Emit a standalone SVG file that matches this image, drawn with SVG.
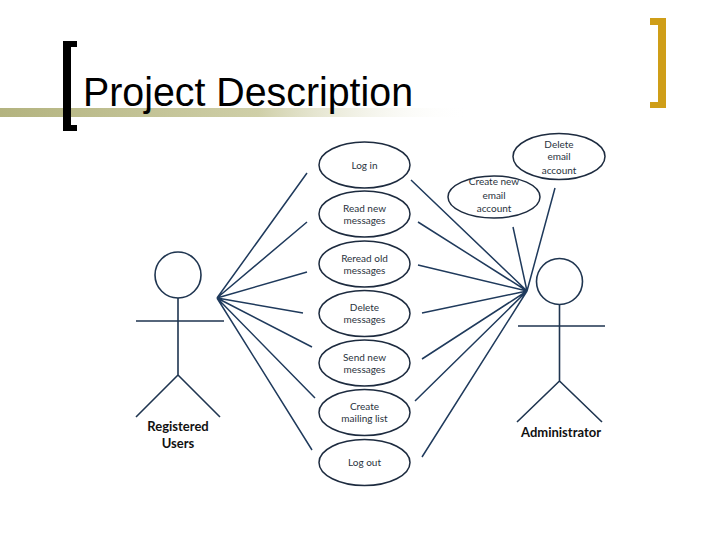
<svg xmlns="http://www.w3.org/2000/svg" width="720" height="540" viewBox="0 0 720 540">
<defs>
<linearGradient id="band" x1="0" y1="0" x2="1" y2="0">
<stop offset="0" stop-color="#b3b37f"/>
<stop offset="0.55" stop-color="#cfcfa8"/>
<stop offset="1" stop-color="#ffffff" stop-opacity="0"/>
</linearGradient>
<style>
.uc{fill:#ffffff;stroke:#1d2b3f;stroke-width:1.5}
.ut{font-family:Lato,"Open Sans",sans-serif;font-size:10px;fill:#2a3340;text-anchor:middle}
.act{fill:none;stroke:#1f3550;stroke-width:1.6}
.ln{stroke:#1f3a5c;stroke-width:1.5;fill:none}
.lab{font-family:Lato,"Open Sans",sans-serif;font-size:13px;fill:#111;text-anchor:middle}
</style>
</defs>
<rect width="720" height="540" fill="#ffffff"/>
<rect x="0" y="108" width="470" height="9" fill="url(#band)"/>
<path d="M77,41 H63 V131 H77 V125 H71 V47 H77 Z" fill="#000"/>
<path d="M650,18 H666 V108 H650 V102 H658 V25 H650 Z" fill="#cf9e18"/>
<text x="83" y="106" font-family="Liberation Sans,Arial,sans-serif" font-size="40" textLength="330" lengthAdjust="spacingAndGlyphs" fill="#000">Project Description</text>

<g id="connectors">
<path class="ln" d="M217,298 L307,173 M217,298 L307,222 M217,298 L307,272 M217,298 L303,313 M217,298 L312,347 M217,298 L315,398 M217,298 L312,450"/>
<path class="ln" d="M527,291 L411,180 M527,291 L418,222 M527,291 L418,265 M527,291 L422,313 M527,291 L422,359 M527,291 L415,401 M527,291 L422,457 M527,291 L513,227 M527,291 L555,188"/>
</g>

<g id="login"><ellipse class="uc" cx="364.5" cy="165" rx="45.5" ry="23"/><text class="ut" x="364.5" y="168.5">Log in</text></g>
<g id="readnew"><ellipse class="uc" cx="364.5" cy="214" rx="45.5" ry="23"/><text class="ut" x="364.5" y="211.5">Read new</text><text class="ut" x="364.5" y="223.5">messages</text></g>
<g id="reread"><ellipse class="uc" cx="364.5" cy="264" rx="45.5" ry="23"/><text class="ut" x="364.5" y="261.5">Reread old</text><text class="ut" x="364.5" y="273.5">messages</text></g>
<g id="delete"><ellipse class="uc" cx="364.5" cy="313.5" rx="45.5" ry="23"/><text class="ut" x="364.5" y="311">Delete</text><text class="ut" x="364.5" y="323">messages</text></g>
<g id="sendnew"><ellipse class="uc" cx="364.5" cy="363" rx="45.5" ry="23"/><text class="ut" x="364.5" y="360.5">Send new</text><text class="ut" x="364.5" y="372.5">messages</text></g>
<g id="mailing"><ellipse class="uc" cx="364.5" cy="412.5" rx="45.5" ry="23"/><text class="ut" x="364.5" y="410">Create</text><text class="ut" x="364.5" y="422">mailing list</text></g>
<g id="logout"><ellipse class="uc" cx="364.5" cy="462.5" rx="45.5" ry="23"/><text class="ut" x="364.5" y="466">Log out</text></g>
<g id="createacct"><ellipse class="uc" cx="494" cy="197" rx="46" ry="21"/><text class="ut" x="494" y="185">Create new</text><text class="ut" x="494" y="198.5">email</text><text class="ut" x="494" y="211.5">account</text></g>
<g id="deleteacct"><ellipse class="uc" cx="559" cy="156.5" rx="46" ry="23"/><text class="ut" x="559" y="148">Delete</text><text class="ut" x="559" y="160">email</text><text class="ut" x="559" y="174">account</text></g>

<g id="registered">
<circle class="act" cx="178" cy="275" r="23"/>
<path class="act" d="M178,298 V375 M136,321 H224 M178,375 L136,417 M178,375 L220,417"/>
<text class="lab" x="178" y="431" font-weight="bold">Registered</text>
<text class="lab" x="178" y="447.5" font-weight="bold">Users</text>
</g>
<g id="admin">
<circle class="act" cx="559.5" cy="281.5" r="23"/>
<path class="act" d="M559.5,304.5 V381 M518,326 H605 M559.5,381 L517,422 M559.5,381 L602,422"/>
<text class="lab" x="561" y="437" font-weight="bold">Administrator</text>
</g>
</svg>
